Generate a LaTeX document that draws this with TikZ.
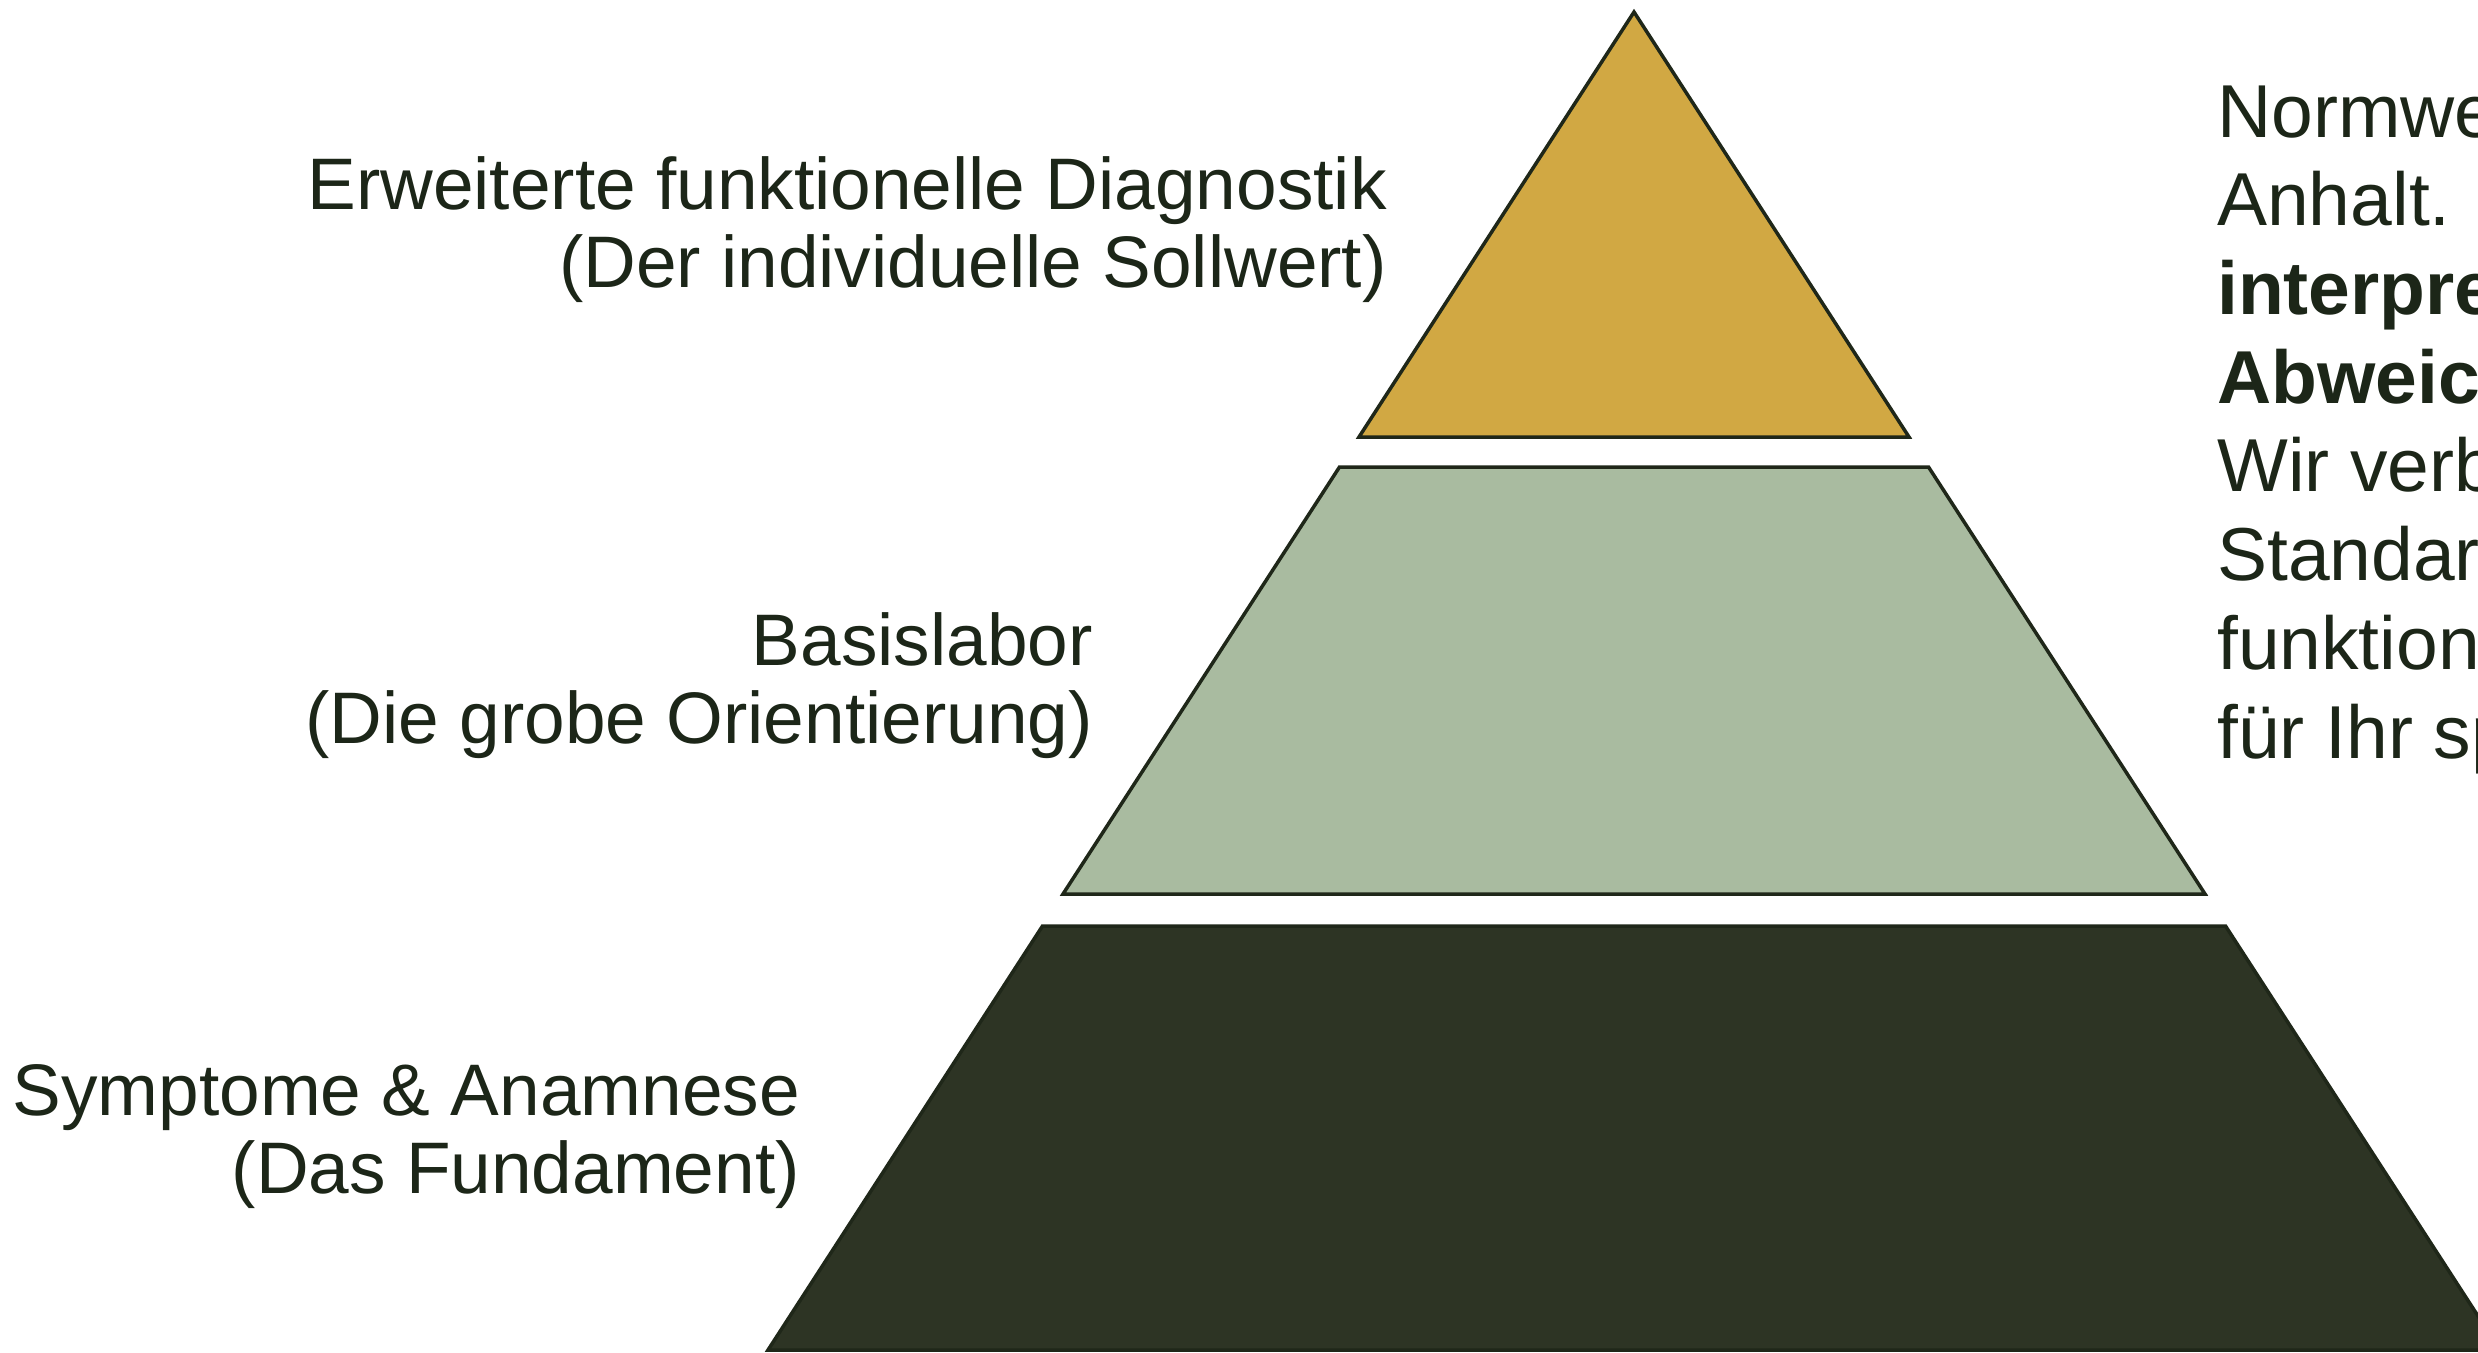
\documentclass[tikz,border=0pt]{standalone}
\usepackage{fontspec}
\setmainfont{Liberation Sans}
\usetikzlibrary{positioning}

\definecolor{gold}{HTML}{D1A843}
\definecolor{sage}{HTML}{A9BBA0}
\definecolor{forest}{HTML}{2D3424}
\definecolor{edgeline}{HTML}{1F2719}
\definecolor{ink}{HTML}{1C2618}

\begin{document}
\begin{tikzpicture}[x=1pt,y=-1pt]
		\tikzstyle {tier} = [draw=edgeline, line width=3.5pt, line join=miter]
		\tikzstyle {tiername} = [anchor=base east, align=right, text=ink, inner sep=0pt, font=\fontsize{73}{78}\selectfont]
		\tikzstyle {sidetext} = [anchor=base west, align=left, text=ink, inner sep=0pt, font=\fontsize{75}{88.7}\selectfont]

		\useasboundingbox (0,0) rectangle (2478,1352);
		\clip (0,0) rectangle (2478,1352);
		\fill[white] (0,0) rectangle (2478,1352);

		% pyramid
		\draw[tier, fill=gold] (1634,12) -- (1909,437) -- (1359,437) -- cycle;
		\draw[tier, fill=sage] (1339.5,467) -- (1928.5,467) -- (2205,894) -- (1063,894) -- cycle;
		\draw[tier, fill=forest] (1042.5,926) -- (2225.5,926) -- (2500,1350) -- (768,1350) -- cycle;

		% labels (base = baseline of the last line)
		\node[tiername] (spitze) at (1387,287) {Erweiterte funktionelle Diagnostik\\(Der individuelle Sollwert)};
		\node[tiername] (mitte) at (1093,743) {Basislabor\\(Die grobe Orientierung)};
		\node[tiername] (basis) at (800,1193) {Symptome \& Anamnese\\(Das Fundament)};

		\node[sidetext] (text) at (2217,758) {Normwe\\Anhalt. I\\\textbf{interpre}\\\textbf{Abweic}\\Wir verb\\Standar\\funktion\\für Ihr sp};
\end{tikzpicture}
\end{document}
